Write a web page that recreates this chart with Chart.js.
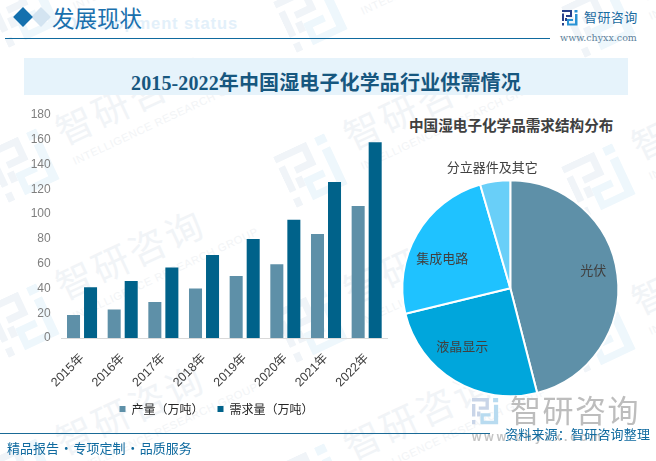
<!DOCTYPE html>
<html>
<head>
<meta charset="utf-8">
<script src="https://cdn.jsdelivr.net/npm/chart.js@4"></script>
<style>
  html, body { margin: 0; padding: 0; background: #fff; }
  #page { position: relative; width: 656px; height: 461px; overflow: hidden; font-family: "Noto Sans CJK SC", sans-serif; }
  #page > * { position: absolute; }
  .t { white-space: nowrap; line-height: 1; }
  canvas { display: block; }
  .mark { width: 240px; height: 90px; transform: rotate(-25deg); transform-origin: 0 50%; }
  .mark svg { position: absolute; left: 0; top: 14px; width: 58px; height: 58px; }
  .mark .cn { position: absolute; left: 74px; top: 8px; font-size: 37px; letter-spacing: 3px; color: #f1f4f7; white-space: nowrap; line-height: 1; }
  .mark .en { position: absolute; left: 76px; top: 54px; font: 11px "Liberation Sans", sans-serif; letter-spacing: .6px; color: #f2f4f6; white-space: nowrap; }
</style>
</head>
<body>
<svg width="0" height="0" style="position:absolute">
  <symbol id="logoA" viewBox="0 0 16 16"><path d="M0 0H10V7H4V5H8V2H0ZM0 3.5H2V11H0ZM0 13H2V15.5H0ZM3 8H5V11H3Z"/></symbol>
  <symbol id="logoB" viewBox="0 0 16 16"><path d="M12.5 0H15.5V2.5H12.5ZM13 4H15.5V15.5H5V9H11V11H7V13.5H13Z"/></symbol>
</svg>
<div id="page">
  <div id="marks" style="left:0;top:0;width:656px;height:461px"></div>

  <div class="t" style="left:65px;top:14px;font:bold 16.5px 'Liberation Sans',sans-serif;letter-spacing:.9px;color:#e3f0fa">Development status</div>
  <div style="left:34px;top:10px;width:14px;height:14px;background:#d3e4f1;transform:rotate(45deg)"></div>
  <div style="left:16px;top:10px;width:14px;height:14px;background:#1470ae;transform:rotate(45deg)"></div>
  <div class="t" style="left:52px;top:6px;font-size:22.5px;color:#1a70ad;font-family:'Noto Sans CJK SC'">发展现状</div>
  <div style="left:5px;top:38px;width:545px;height:1px;background:#0f6a9f"></div>

  <svg style="left:562px;top:10px;width:16px;height:16px;fill:#27408b"><use href="#logoA"/></svg>
  <svg style="left:562px;top:10px;width:16px;height:16px;fill:#2a93d5"><use href="#logoB"/></svg>
  <div class="t" style="left:584px;top:10px;font-size:13px;letter-spacing:.4px;color:#1a6ba0">智研咨询</div>
  <div class="t" style="left:560px;top:32px;font:9.5px 'DejaVu Serif',serif;color:#5d7f9a">www.chyxx.com</div>

  <div style="left:24px;top:58px;width:604px;height:37px;background:#e6f3fb"></div>
  <div class="t" style="left:131px;top:67px;font:bold 20px 'Liberation Serif','Noto Sans CJK SC',serif;letter-spacing:.13px;color:#17577f">2015-2022年中国湿电子化学品行业供需情况</div>

  <canvas id="barChart" width="385" height="320" style="left:20px;top:105px"></canvas>
  <div class="t" style="left:409px;top:118px;font-weight:bold;font-size:14.6px;color:#404040">中国湿电子化学品需求结构分布</div>
  <canvas id="pieChart" width="240" height="300" style="left:390px;top:105px"></canvas>

  <svg style="left:472px;top:398px;width:27px;height:27px;fill:#c9d5e8"><use href="#logoA"/></svg>
  <svg style="left:472px;top:398px;width:27px;height:27px;fill:#b8dbf0"><use href="#logoB"/></svg>
  <div class="t" style="left:510px;top:393px;font-size:31px;letter-spacing:1.5px;color:#bdbdbd">智研咨询</div>
  <div class="t" style="left:472px;top:430px;font:bold 12px 'Liberation Sans',sans-serif;letter-spacing:3px;color:#c4c4c4">www.chyxx.com</div>

  <div style="left:0;top:433px;width:490px;height:1px;background:#1a6a96"></div>
  <div class="t" style="left:7px;top:441px;font-size:13px;word-spacing:-2.2px;color:#0f6a9f">精品报告 · 专项定制 · 品质服务</div>
  <div class="t" style="left:505px;top:427px;font-size:13px;letter-spacing:.2px;color:#0f6a9f">资料来源：智研咨询整理</div>
</div>

<script>
const years = ['2015年', '2016年', '2017年', '2018年', '2019年', '2020年', '2021年', '2022年'];
const output = [18.5, 23, 29, 40, 50, 59.5, 84, 106.5];
const demand = [41, 46, 57, 67, 80, 95.5, 126, 158];
const yTicks = [0, 20, 40, 60, 80, 100, 120, 140, 160, 180];

const segments = ['光伏', '液晶显示', '集成电路', '分立器件及其它'];
const shares = [46, 25.2, 24.3, 4.5];
const segmentColors = ['#5e90a8', '#00a6dc', '#1fc2ff', '#69cff8'];

// background watermark
const marks = document.getElementById('marks');
[[-2, 25], [286, 30], [574, 35], [-2, 180], [286, 185], [574, 195], [-2, 335], [286, 340], [574, 350], [-2, 490], [286, 495]].forEach(([x, y]) => {
  const m = document.createElement('div');
  m.className = 'mark';
  m.style.cssText = 'position:absolute;left:' + x + 'px;top:' + (y - 45) + 'px';
  m.innerHTML = '<svg style="fill:#f0f4f8"><use href="#logoA"/></svg><svg style="fill:#eef7fc"><use href="#logoB"/></svg>' +
    '<div class="cn">智研咨询</div><div class="en">INTELLIGENCE RESEARCH GROUP</div>';
  marks.appendChild(m);
});

// the legend sits a little right of the canvas centre
const legendShift = {
  id: 'legendShift',
  afterLayout(chart) {
    chart.legend.left += 13;
    chart.legend.right += 13;
  }
};

new Chart(document.getElementById('barChart'), {
  type: 'bar',
  data: {
    labels: years,
    datasets: [
      { label: '产量（万吨）', data: output, backgroundColor: '#5e90a8' },
      { label: '需求量（万吨）', data: demand, backgroundColor: '#00628a' }
    ]
  },
  options: {
    responsive: false,
    animation: false,
    layout: { padding: { top: 10, right: 18, left: 0, bottom: 0 } },
    datasets: { bar: { categoryPercentage: 0.8374, barPercentage: 0.765 } },
    scales: {
      x: {
        grid: { display: false },
        border: { color: '#d9d9d9' },
        afterFit: (s) => { s.height = 51; },
        ticks: { minRotation: 45, maxRotation: 45, padding: 5, color: '#404040', font: { size: 12.5, family: 'Liberation Sans, Noto Sans CJK SC' } }
      },
      y: {
        min: 0,
        max: 180,
        // fixed gutter, and no extra room above the top tick
        afterFit: (s) => { s.width = 41.7; s.paddingTop = 10; s.paddingBottom = 0; },
        afterBuildTicks: (s) => { s.ticks = yTicks.map((v) => ({ value: v })); },
        grid: { display: false, drawTicks: false },
        border: { display: false },
        ticks: { padding: 11, color: '#7f7f7f', font: { size: 12, family: 'Liberation Sans' } }
      }
    },
    plugins: {
      tooltip: { enabled: false },
      legend: {
        position: 'bottom',
        labels: { boxWidth: 6, boxHeight: 6, padding: 14, color: '#262626', font: { size: 12, family: 'Noto Sans CJK SC' } }
      }
    }
  },
  plugins: [legendShift]
});

// where each slice's name sits, measured from the pie centre
const labelOffsets = [[83, -18], [-48, 58], [-68, -30], [-18, -121]];
const sliceLabels = {
  id: 'sliceLabels',
  afterDatasetsDraw(chart) {
    const ctx = chart.ctx;
    const arcs = chart.getDatasetMeta(0).data;
    ctx.save();
    ctx.font = '13px "Noto Sans CJK SC"';
    ctx.fillStyle = '#404040';
    ctx.textAlign = 'center';
    ctx.textBaseline = 'middle';
    segments.forEach((name, i) => {
      ctx.fillText(name, arcs[i].x + labelOffsets[i][0], arcs[i].y + labelOffsets[i][1]);
    });
    ctx.restore();
  }
};

new Chart(document.getElementById('pieChart'), {
  type: 'pie',
  data: {
    labels: segments,
    datasets: [{ data: shares, backgroundColor: segmentColors, borderColor: '#fff', borderWidth: 2 }]
  },
  options: {
    responsive: false,
    animation: false,
    layout: { padding: { top: 74.3, bottom: 7.7, left: 11.3, right: 10.7 } },
    plugins: { legend: { display: false }, tooltip: { enabled: false } }
  },
  plugins: [sliceLabels]
});
</script>
</body>
</html>
